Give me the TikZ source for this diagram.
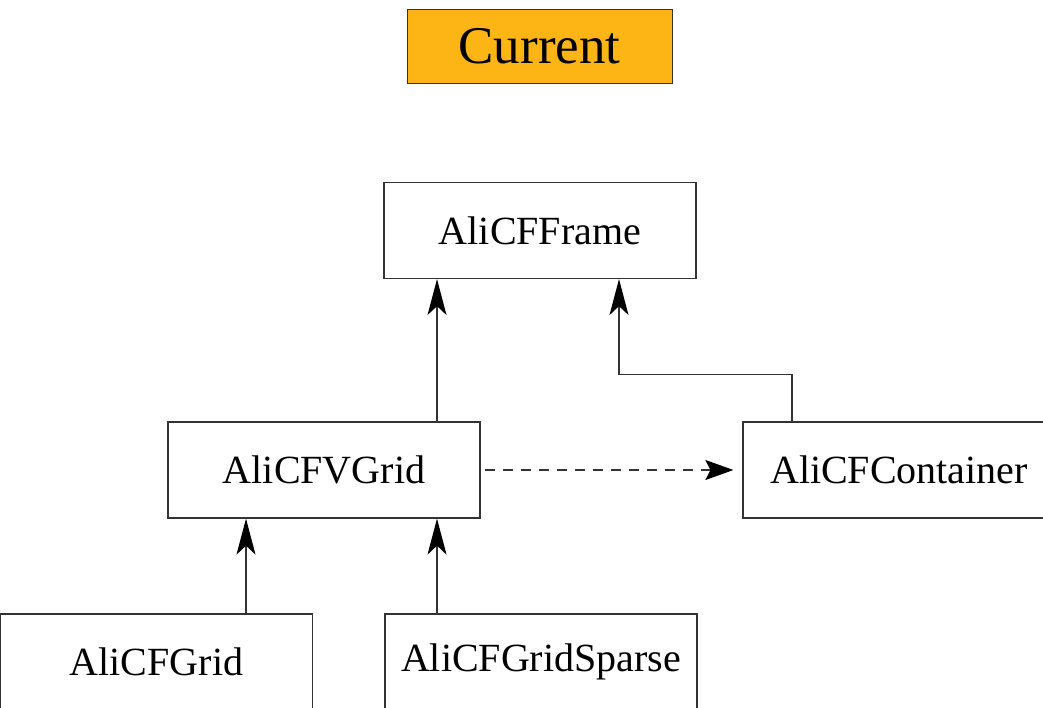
\documentclass[tikz,border=0pt]{standalone}
\usepackage{fontspec}
\setmainfont{Liberation Serif}
\usetikzlibrary{arrows.meta}
\definecolor{titleorange}{HTML}{FDB515}
\definecolor{linegray}{HTML}{333333}
\begin{document}
\begin{tikzpicture}[x=1pt, y=-1pt,
    classbox/.style={draw=linegray, line width=1.2pt, minimum width=312pt, minimum height=96pt,
        inner sep=0pt, font=\fontsize{40}{48}\selectfont},
    arr/.style={draw=linegray, line width=1.2pt, -{Stealth[length=36pt, width=19pt, inset=9pt, color=black]}}]

        % page frame, boxes at the edges are cut off
        \useasboundingbox (0,0) rectangle (1043,707);
        \clip (0,0) rectangle (1043,707);

        % title
        \node[draw=linegray, fill=titleorange, minimum width=265pt, minimum height=74pt, inner sep=0pt,
            font=\fontsize{53}{60}\selectfont] (current) at (539.5,46) {Current};

        % classes
        \node[classbox] (frame) at (540,230.5) {AliCFFrame};
        \node[classbox] (vgrid) at (324,470) {AliCFVGrid};
        \node[classbox] (container) at (899,470) {AliCFContainer};
        \node[classbox] (grid) at (156.5,662) {AliCFGrid};
        \node[classbox] (sparse) at (541,662) {AliCFGridSparse};

        % inheritance
        \draw[arr] ([xshift=113pt]vgrid.north) -- ([xshift=113pt]vgrid.north |- frame.south);
        \draw[arr] ([xshift=-107pt]container.north) -- ++(0,-47) -| ([xshift=79pt]frame.south);
        \draw[arr] ([xshift=89.5pt]grid.north) -- ([xshift=89.5pt]grid.north |- vgrid.south);
        \draw[arr] ([xshift=-104pt]sparse.north) -- ([xshift=-104pt]sparse.north |- vgrid.south);

        % usage
        \draw[arr, -{Stealth[length=28pt, width=20pt, inset=5pt, color=black]}, dash pattern=on 10pt off 8pt,
            shorten <=4pt, shorten >=9pt] (vgrid.east) -- (container.west);
    \end{tikzpicture}
\end{document}
